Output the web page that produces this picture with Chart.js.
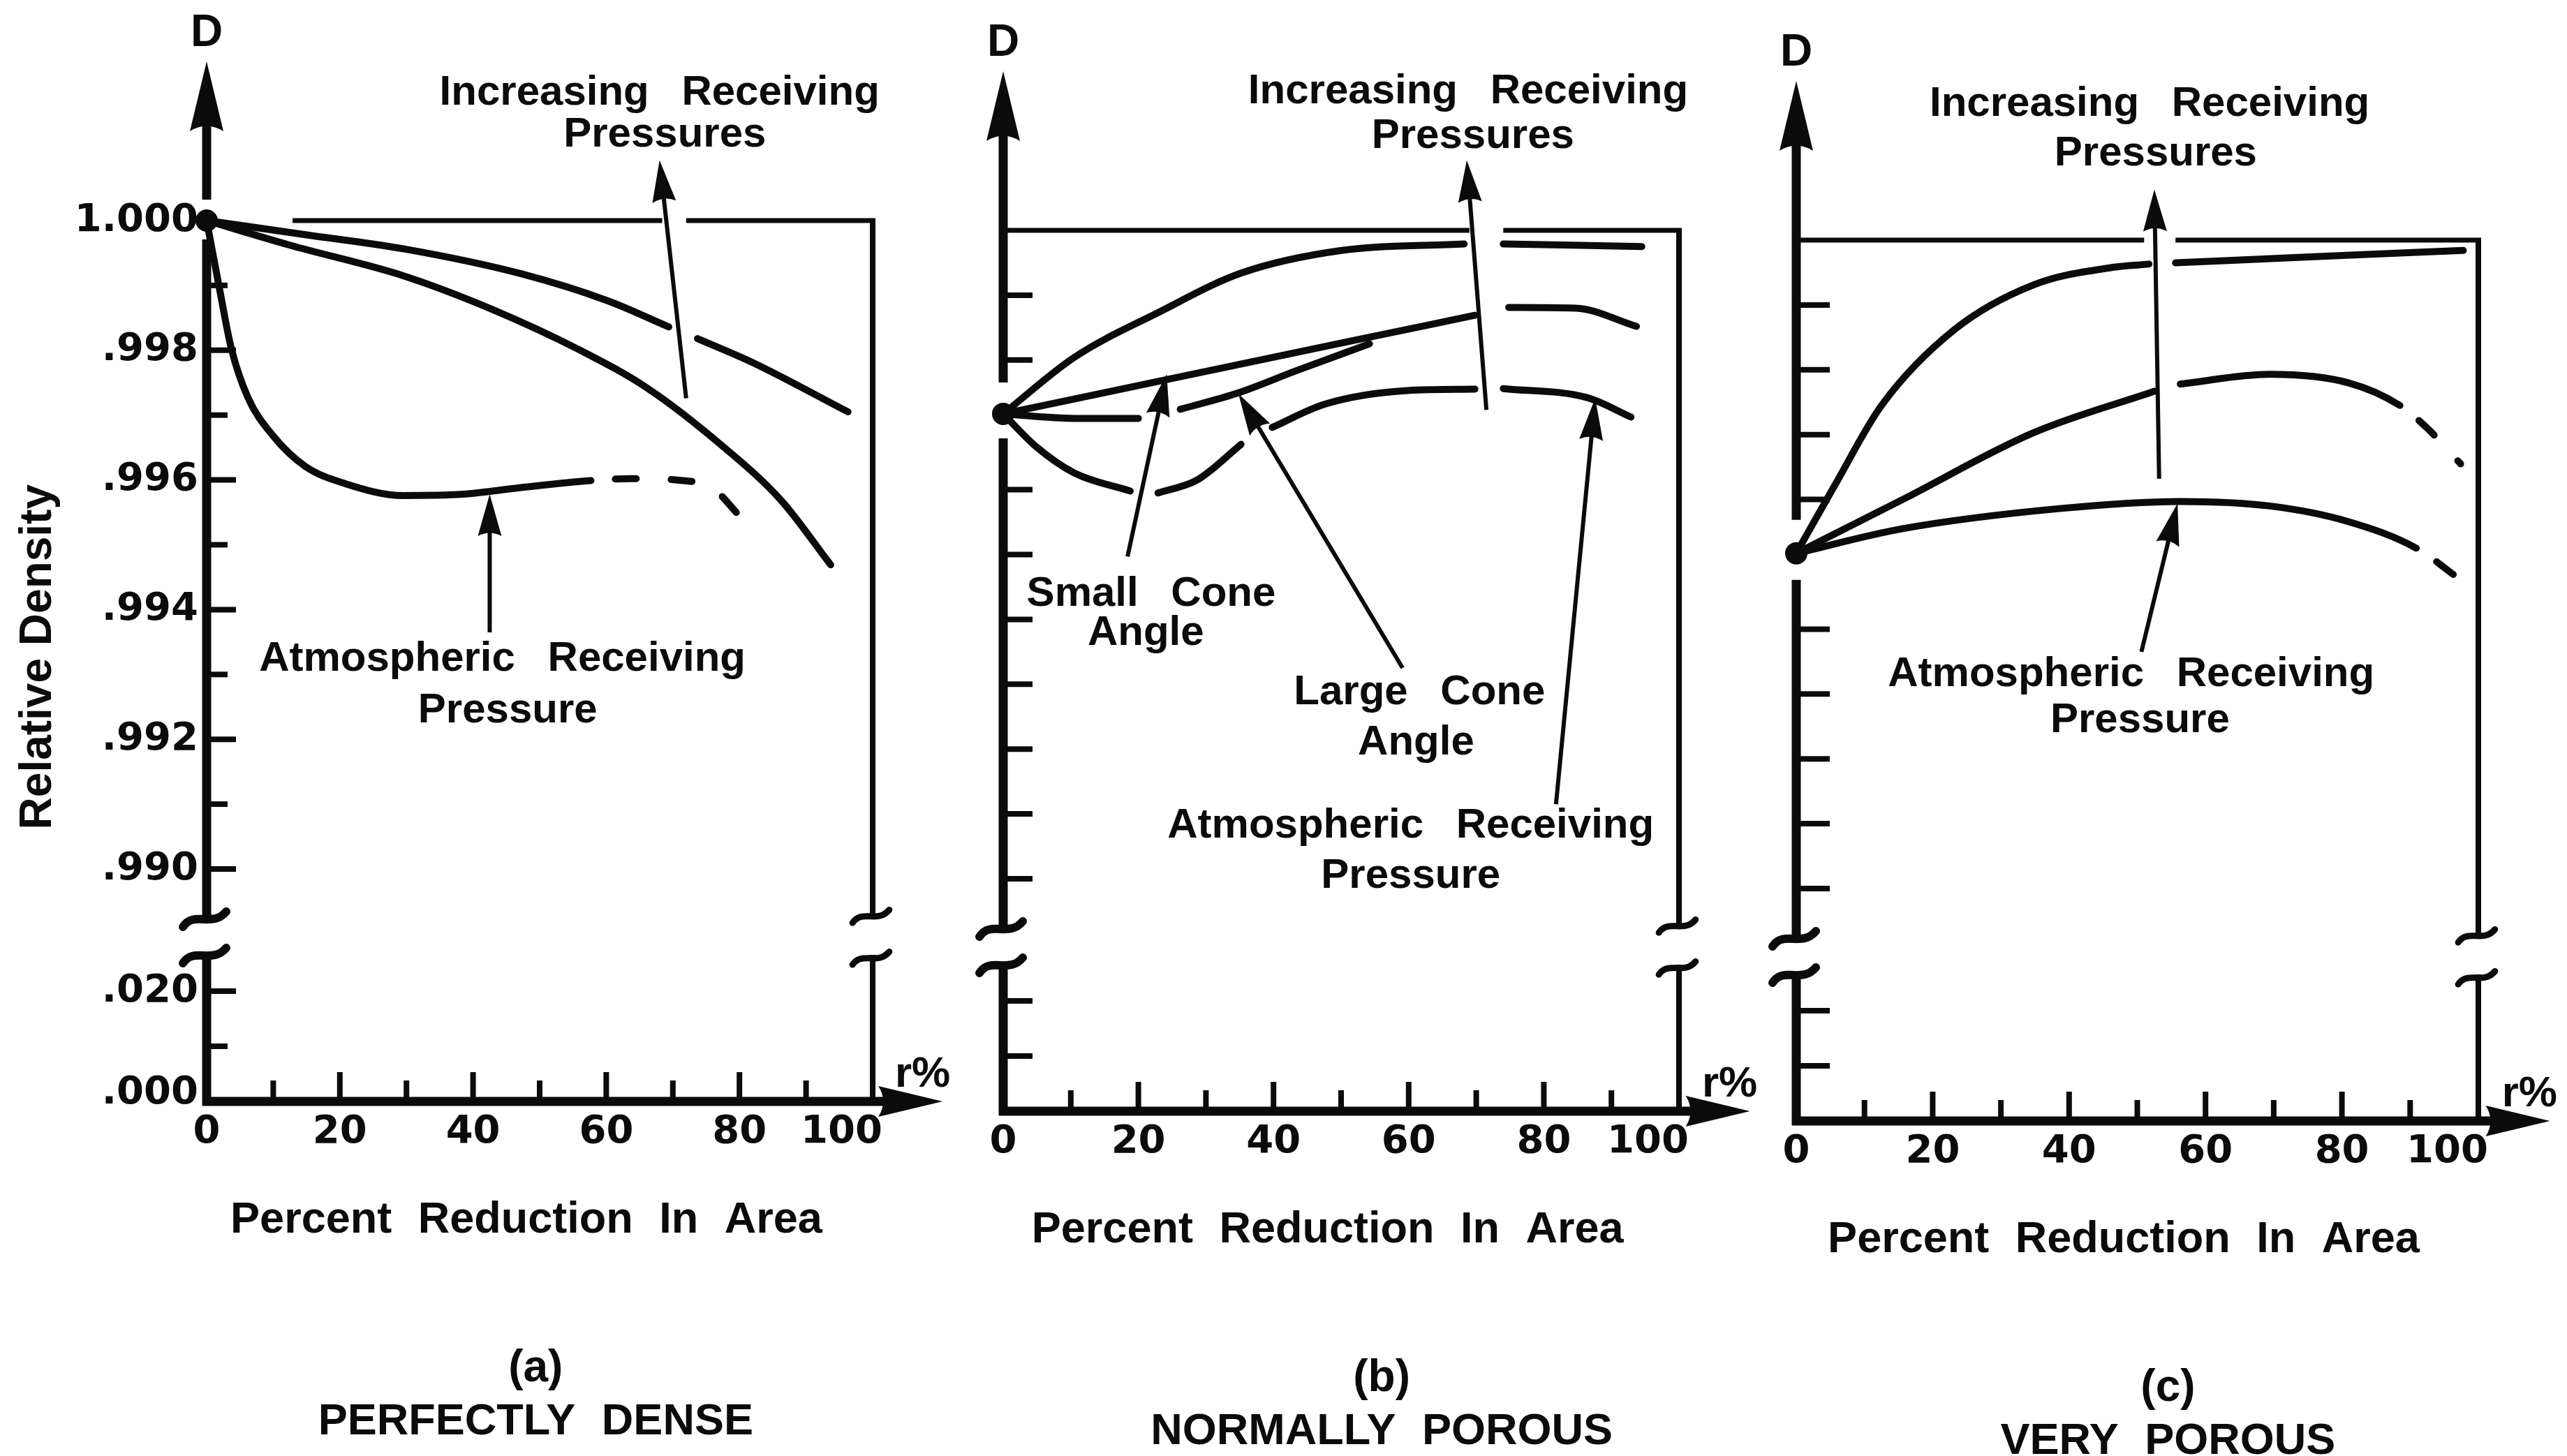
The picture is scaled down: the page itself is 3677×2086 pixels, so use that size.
<!DOCTYPE html>
<html lang="en">
<head>
  <meta charset="UTF-8">
  <title>Relative Density vs Percent Reduction In Area</title>
  <script src="https://cdn.jsdelivr.net/npm/chart.js"></script>
  <style>
    html, body { margin: 0; padding: 0; background: #fff; }
    body { width: 3677px; height: 2086px; position: relative; overflow: hidden; }
    canvas { position: absolute; top: 0; }
  </style>
</head>
<body>
  <canvas id="chartA" width="1400" height="2086" style="left:0px"></canvas>
  <canvas id="chartB" width="1210" height="2086" style="left:1370px"></canvas>
  <canvas id="chartC" width="1177" height="2086" style="left:2500px"></canvas>

  <script>
    // ---- data: x = percent reduction in area, D = relative density (null = pen lifted) ----

    // (a) perfectly dense
    const denseHighX = [0, 15, 29.8, 47.2, 60.3, 69.4, 71.5, 73.7, 82.0, 96.3];
    const denseHighD = [1.000, 0.99978, 0.99956, 0.99918, 0.99876, 0.99836, null, 0.99818, 0.99781, 0.99705];
    const denseMidX  = [0, 12.5, 29.8, 42.9, 55.9, 66.4, 77.6, 86.3, 93.7];
    const denseMidD  = [1.000, 0.99962, 0.99914, 0.99863, 0.99801, 0.99740, 0.99651, 0.99568, 0.99469];
    const denseAtmX  = [0, 2.0, 3.7, 6.2, 9.9, 14.8, 20.9, 29.5, 38.5, 47.0, 57.7, 63.7, 71.5, 75.9, 79.8];
    const denseAtmD  = [1.000, 0.99891, 0.99803, 0.99727, 0.99669, 0.99621, 0.99594, 0.99576, 0.99578, 0.99588, 0.99599, 0.99602, 0.99599, 0.99588, 0.99547];

    // (b) normally porous
    const normHighX  = [0, 10.5, 22.9, 35.2, 50.1, 68.2, 71.1, 74.0, 94.5];
    const normHighD  = [0.99717, 0.99804, 0.99873, 0.99934, 0.99969, 0.99979, null, 0.99979, 0.99975];
    const normSmallX = [0, 23.8, 51.8, 69.8, 72.3, 74.8, 84.7, 93.7];
    const normSmallD = [0.99717, 0.99769, 0.99830, 0.99869, null, 0.99881, 0.99880, 0.99852];
    const normLargeX = [0, 10.5, 20.0, 23.1, 26.2, 34.4, 43.5, 54.2];
    const normLargeD = [0.99717, 0.99710, 0.99710, null, 0.99724, 0.99748, 0.99784, 0.99825];
    const normAtmX   = [0, 4.8, 10.5, 18.8, 20.8, 22.9, 28.7, 35.2, 37.5, 39.8, 47.6, 59.9, 69.8, 71.9, 74.0, 86.4, 92.9];
    const normAtmD   = [0.99717, 0.99667, 0.99626, 0.99598, null, 0.99595, 0.99615, 0.99670, null, 0.99696, 0.99732, 0.99753, 0.99755, null, 0.99756, 0.99742, 0.99712];

    // (c) very porous
    const poroHighX  = [0, 5.6, 12.5, 23.2, 34.8, 46.4, 51.7, 53.7, 55.6, 77.1, 97.8];
    const poroHighD  = [0.99517, 0.99621, 0.99745, 0.99862, 0.99931, 0.99958, 0.99963, null, 0.99965, 0.99975, 0.99984];
    const poroMidX   = [0, 15.6, 34.8, 52.5, 54.4, 56.3, 69.4, 80.9, 88.5, 92.4, 97.4];
    const poroMidD   = [0.99517, 0.99600, 0.99703, 0.99767, null, 0.99778, 0.99793, 0.99780, 0.99745, 0.99711, 0.99655];
    const poroAtmX   = [0, 15.6, 38.6, 56.3, 69.4, 80.9, 90.9, 97.4];
    const poroAtmD   = [0.99517, 0.99555, 0.99586, 0.99597, 0.99590, 0.99566, 0.99525, 0.99476];

    // ticks and tick labels
    const xTicks      = [10, 20, 30, 40, 50, 60, 70, 80, 90];
    const xLabelVals  = [0, 20, 40, 60, 80, 100];
    const xLabelText  = ['0', '20', '40', '60', '80', '100'];
    const yTicks      = [0.010, 0.020, 0.990, 0.991, 0.992, 0.993, 0.994, 0.995, 0.996, 0.997, 0.998, 0.999];
    const yLabelVals  = [0.000, 0.020, 0.990, 0.992, 0.994, 0.996, 0.998, 1.000];
    const yLabelText  = ['.000', '.020', '.990', '.992', '.994', '.996', '.998', '1.000'];

    // ---- broken D axis: .000-.020 at the bottom, .990-1.000 above the break ----
    const TOP_T = 1262;
    const BREAK_T = [262, 210];
    const TIP_T = 1490;
    const X_TIP = 110.5;
    function toT(d) {
      return d >= 0.5 ? 333 + (d - 0.990) * 92900 : d * 7900;
    }

    const INK = '#0b0b0b';
    const WORD_FONT = 'bold 60px "Liberation Sans", Arial, sans-serif';
    const TITLE_FONT = 'bold 63px "Liberation Sans", Arial, sans-serif';
    const NUM_FONT = 'bold 56px "DejaVu Sans", sans-serif';

    const panels = {
      chartA: {
        left: 0, width: 1400, x0: 296, x100: 1250, base: 1578,
        origin: 1.000, dotGap: [30, 27], tickLen: [42, 30], yLabels: true,
        topFrom: 12.9, topGap: [68.4, 72.0],
        series: [[denseHighX, denseHighD], [denseMidX, denseMidD], [denseAtmX, denseAtmD, 57.7]],
        arrows: [[72.0, 0.99726, 68.0, 1.00093], [42.5, 0.99365, 42.5, 0.99578]],
        notes: [['Increasing Receiving', 68.0, 1.00196], ['Pressures', 68.8, 1.00132],
                ['Atmospheric Receiving', 44.4, 0.99323], ['Pressure', 45.2, 0.99244]],
        capX: 49.4, caption: ['(a)', 'PERFECTLY DENSE']
      },
      chartB: {
        left: 1370, width: 1210, x0: 1437, x100: 2405, base: 1592,
        origin: 0.99717, dotGap: [45, 35], tickLen: [42, 42], yLabels: false,
        topFrom: 0, topGap: [69.0, 74.0],
        series: [[normHighX, normHighD], [normSmallX, normSmallD], [normLargeX, normLargeD], [normAtmX, normAtmD]],
        arrows: [[71.5, 0.99723, 68.6, 1.00108], [18.4, 0.99497, 24.2, 0.99778],
                 [59.1, 0.99325, 34.8, 0.99748], [81.8, 0.99115, 87.6, 0.99741]],
        notes: [['Increasing Receiving', 68.8, 1.00214], ['Pressures', 69.5, 1.00145],
                ['Small Cone', 21.9, 0.99439], ['Angle', 21.1, 0.99378],
                ['Large Cone', 61.6, 0.99287], ['Angle', 61.1, 0.99209],
                ['Atmospheric Receiving', 60.3, 0.99081], ['Pressure', 60.3, 0.99004]],
        capX: 56.0, caption: ['(b)', 'NORMALLY POROUS']
      },
      chartC: {
        left: 2500, width: 1177, x0: 2573, x100: 3550, base: 1606,
        origin: 0.99517, dotGap: [48, 38], tickLen: [48, 48], yLabels: false,
        topFrom: 0, topGap: [51.0, 55.6],
        series: [[poroHighX, poroHighD], [poroMidX, poroMidD, 88.5], [poroAtmX, poroAtmD, 90.9]],
        arrows: [[53.2, 0.99632, 52.5, 1.00078], [50.6, 0.99365, 55.9, 0.99594]],
        notes: [['Increasing Receiving', 51.8, 1.00209], ['Pressures', 52.7, 1.00133],
                ['Atmospheric Receiving', 49.1, 0.99330], ['Pressure', 50.4, 0.99259]],
        capX: 54.5, caption: ['(c)', 'VERY POROUS']
      }
    };

    // ---- drawing helpers ----
    function seg(ctx, w, x1, y1, x2, y2) {
      ctx.lineWidth = w;
      ctx.beginPath(); ctx.moveTo(x1, y1); ctx.lineTo(x2, y2); ctx.stroke();
    }
    function head(ctx, x, y, ux, uy, len, half) {
      const bx = x - ux * len, by = y - uy * len;
      ctx.beginPath();
      ctx.moveTo(x, y);
      ctx.lineTo(bx - uy * half, by + ux * half);
      ctx.quadraticCurveTo(x - ux * len * 0.85, y - uy * len * 0.85, bx + uy * half, by - ux * half);
      ctx.closePath(); ctx.fill();
    }
    function squiggle(ctx, x, y, w, s) {
      ctx.lineWidth = w; ctx.lineCap = 'round';
      ctx.beginPath();
      ctx.moveTo(x - 34 * s, y + 12 * s);
      ctx.bezierCurveTo(x - 18 * s, y - 12 * s, x + 8 * s, y + 14 * s, x + 28 * s, y - 10 * s);
      ctx.stroke();
      ctx.lineCap = 'butt';
    }
    function text(ctx, str, x, y, font, align) {
      ctx.font = font;
      ctx.textAlign = align || 'center';
      ctx.fillText(str, x, y);
    }

    const sketch = {
      id: 'sketch',
      afterDatasetsDraw(chart) {
        const P = panels[chart.canvas.id];
        const ctx = chart.ctx;
        const X = v => chart.scales.x.getPixelForValue(v);
        const T = t => chart.scales.y.getPixelForValue(t);
        const D = d => T(toT(d));
        const x0 = X(0), xr = X(100), yb = T(0), yo = D(P.origin), tip = T(TIP_T);

        ctx.save();
        ctx.strokeStyle = INK; ctx.fillStyle = INK;
        ctx.lineCap = 'butt';
        ctx.textBaseline = 'middle';

        // D axis
        seg(ctx, 13, x0, tip + 80, x0, yo - P.dotGap[0]);
        seg(ctx, 13, x0, yo + P.dotGap[1], x0, T(BREAK_T[0]));
        seg(ctx, 13, x0, T(BREAK_T[1]), x0, yb + 6);
        head(ctx, x0, tip, 0, -1, 100, 24);
        squiggle(ctx, x0, T(BREAK_T[0]), 12, 1);
        squiggle(ctx, x0, T(BREAK_T[1]), 12, 1);
        yTicks.forEach(d => {
          const y = D(d);
          if (y > yo - P.dotGap[0] - 6 && y < yo + P.dotGap[1] + 6) return;
          const major = yLabelVals.includes(d);
          seg(ctx, 8, x0, y, x0 + (major ? P.tickLen[0] : P.tickLen[1]), y);
        });

        // r% axis
        const tipX = X(X_TIP);
        seg(ctx, 13, x0 - 6, yb, tipX - 70, yb);
        head(ctx, tipX, yb, 1, 0, 92, 22);
        xTicks.forEach(v => seg(ctx, 8, X(v), yb, X(v), yb - (v % 20 === 0 ? 42 : 30)));

        // frame at D = 1.000 and r = 100
        const y1 = D(1.000);
        seg(ctx, 7, X(P.topFrom), y1, X(P.topGap[0]), y1);
        seg(ctx, 7, X(P.topGap[1]), y1, xr + 4, y1);
        seg(ctx, 8, xr, y1 - 3, xr, T(BREAK_T[0]));
        seg(ctx, 8, xr, T(BREAK_T[1]), xr, yb);
        squiggle(ctx, xr, T(BREAK_T[0]) - 4, 9, 0.85);
        squiggle(ctx, xr, T(BREAK_T[1]) + 4, 9, 0.85);

        // origin dot
        ctx.beginPath(); ctx.arc(x0, yo, 16, 0, Math.PI * 2); ctx.fill();

        // pointer arrows
        P.arrows.forEach(([fx, fd, hx, hd]) => {
          const ax = X(fx), ay = D(fd), bx = X(hx), by = D(hd);
          const L = Math.hypot(bx - ax, by - ay), ux = (bx - ax) / L, uy = (by - ay) / L;
          seg(ctx, 6, ax, ay, bx - ux * 40, by - uy * 40);
          head(ctx, bx, by, ux, uy, 60, 17);
        });

        // tick labels
        xLabelVals.forEach((v, i) => {
          if (v === 100) text(ctx, xLabelText[i], xr + 14, yb + 44, NUM_FONT, 'right');
          else text(ctx, xLabelText[i], X(v), yb + 44, NUM_FONT);
        });
        if (P.yLabels) {
          yLabelVals.forEach((d, i) => {
            text(ctx, yLabelText[i], x0 - 12, D(d) - (d === 0 ? 12 : 0), NUM_FONT, 'right');
          });
          ctx.save();
          ctx.translate(X(-25.2), D(0.99327));
          ctx.rotate(-Math.PI / 2);
          text(ctx, 'Relative Density', 0, 0, 'bold 64px "Liberation Sans", Arial, sans-serif');
          ctx.restore();
        }
        text(ctx, 'D', x0, tip - 40, 'bold 64px "Liberation Sans", Arial, sans-serif');
        text(ctx, 'r%', X(107.5), yb - 38, 'bold 62px "Liberation Sans", Arial, sans-serif');

        // notes and titles
        ctx.wordSpacing = '30px';
        P.notes.forEach(([s, x, d]) => text(ctx, s, X(x), D(d), WORD_FONT));
        ctx.wordSpacing = '20px';
        text(ctx, 'Percent Reduction In Area', X(48), yb + 171, TITLE_FONT);
        text(ctx, P.caption[0], X(P.capX), yb + 383, 'bold 64px "Liberation Sans", Arial, sans-serif');
        text(ctx, P.caption[1], X(P.capX), yb + 460, TITLE_FONT);
        ctx.restore();
      }
    };

    function makeDataset([xs, ds, dashFrom]) {
      return {
        data: xs.map((x, i) => ({ x, y: ds[i] === null ? null : toT(ds[i]) })),
        borderColor: INK,
        borderWidth: 10,
        borderCapStyle: 'round',
        borderJoinStyle: 'round',
        cubicInterpolationMode: 'monotone',
        pointRadius: 0,
        fill: false,
        clip: false,
        segment: {
          borderDash: c => (dashFrom !== undefined && c.p0.parsed.x >= dashFrom) ? [30, 50] : undefined,
          borderDashOffset: c => (dashFrom !== undefined && c.p0.parsed.x >= dashFrom) ? 45 : undefined
        }
      };
    }

    Object.keys(panels).forEach(id => {
      const P = panels[id];
      new Chart(document.getElementById(id), {
        type: 'line',
        data: { datasets: P.series.map(makeDataset) },
        options: {
          responsive: false,
          animation: false,
          events: [],
          layout: {
            autoPadding: false,
            padding: {
              left: P.x0 - P.left,
              right: P.left + P.width - P.x100,
              top: P.base - TOP_T,
              bottom: 2086 - P.base
            }
          },
          scales: {
            x: { type: 'linear', min: 0, max: 100, display: false },
            y: { type: 'linear', min: 0, max: TOP_T, display: false }
          },
          plugins: { legend: { display: false }, tooltip: { enabled: false } }
        },
        plugins: [sketch]
      });
    });
  </script>
</body>
</html>
